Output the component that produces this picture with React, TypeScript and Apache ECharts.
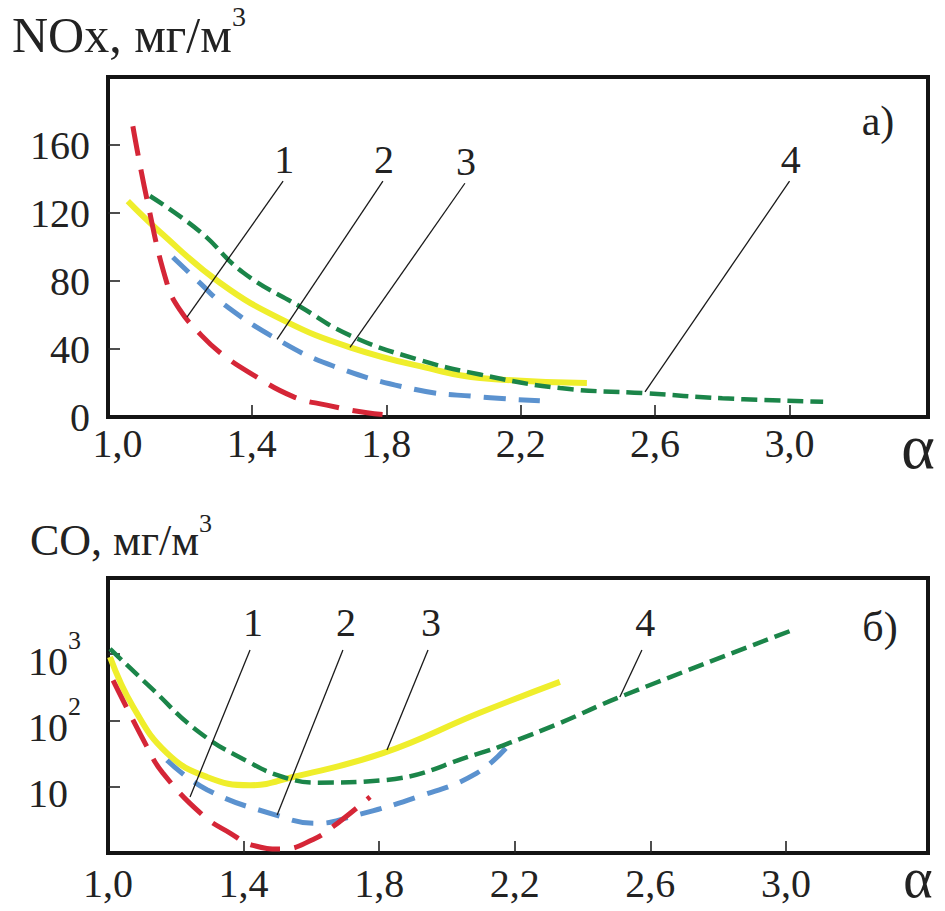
import React, { useEffect, useRef } from 'react';
import * as echarts from 'echarts';

// ---------- data ----------
const xTickValues = [1.0, 1.4, 1.8, 2.2, 2.6, 3.0];
const xMinorTicks = [1.4, 1.8, 2.2, 2.6, 3.0];
const noxTickValues = [0, 40, 80, 120, 160];
const coTickValues = [10, 100, 1000];

// NOx (top, panel a)
const nox1 = [[1.046, 171], [1.088, 128], [1.147, 79], [1.186, 63], [1.25, 48], [1.305, 38], [1.394, 26], [1.523, 12], [1.623, 7], [1.743, 2.5], [1.826, 1]];
const nox2 = [[1.165, 94], [1.25, 78], [1.305, 68], [1.464, 47], [1.642, 30], [1.891, 16], [2.07, 12], [2.257, 9.5]];
const nox3 = [[1.031, 127], [1.126, 109], [1.305, 79], [1.493, 57], [1.692, 41], [1.94, 28], [2.079, 23], [2.397, 20]];
const nox4 = [[1.097, 130], [1.246, 109], [1.374, 85], [1.543, 65], [1.692, 48], [1.891, 34], [2.079, 25], [2.317, 17], [2.57, 14], [2.8, 11], [3.1, 9]];

// CO (bottom, panel б), log scale
const co1 = [[1.015, 400], [1.115, 40], [1.162, 16], [1.28, 3.7], [1.36, 2], [1.428, 1.3], [1.516, 1.15], [1.605, 1.6], [1.664, 2.5], [1.773, 7]];
const co2 = [[1.174, 25], [1.292, 9], [1.498, 3.7], [1.617, 2.8], [1.714, 3.5], [1.912, 7], [2.088, 16], [2.186, 45]];
const co3 = [[1.006, 900], [1.074, 160], [1.174, 32], [1.292, 14], [1.419, 10.5], [1.546, 14], [1.811, 32], [2.097, 130], [2.333, 380]];
const co4 = [[1.006, 1200], [1.124, 320], [1.271, 65], [1.419, 23], [1.516, 14], [1.617, 11.5], [1.811, 12.5], [2.097, 32], [2.186, 46], [2.333, 91], [2.51, 225], [3.02, 2300]];

// leader lines: [point on curve, upper end], label
const noxLeaders = [
  { label: '1', from: [1.207, 58.7], to: [1.493, 138.7] },
  { label: '2', from: [1.475, 45.6], to: [1.79, 138.7] },
  { label: '3', from: [1.692, 40.9], to: [2.034, 137.5] },
  { label: '4', from: [2.57, 14.8], to: [3.0, 138.7] },
];
const coLeaders = [
  { label: '1', from: [1.242, 7], to: [1.419, 1150] },
  { label: '2', from: [1.499, 3.74], to: [1.693, 1150] },
  { label: '3', from: [1.823, 35.8], to: [1.944, 1150] },
  { label: '4', from: [2.51, 225], to: [2.575, 1150] },
];

// ---------- styles ----------
const FONT = 'Liberation Serif';
const TXT = '#222';
const RED = '#d52637';
const BLUE = '#5b92cf';
const YELLOW = '#efee2c';
const GREEN = '#1b8549';

const curveStyles = {
  c1: { color: RED, width: 5, type: [30, 14] as any },
  c2: { color: BLUE, width: 5, type: [22, 13] as any },
  c3: { color: YELLOW, width: 6, type: 'solid' as any },
  c4: { color: GREEN, width: 4.5, type: [16, 7] as any },
};

const fmtX = (v: number) => v.toFixed(1).replace('.', ',');

function curve(name: string, data: number[][], style: any, gi: number, leader: any, dist: number) {
  return {
    type: 'line',
    name,
    xAxisIndex: gi,
    yAxisIndex: gi,
    data,
    smooth: 0.45,
    showSymbol: false,
    symbol: 'none',
    lineStyle: { color: style.color, width: style.width, type: style.type, cap: 'butt' },
    itemStyle: { color: style.color },
    markLine: {
      silent: true,
      symbol: ['none', 'none'],
      lineStyle: { color: '#1a1a1a', width: 1.3, type: 'solid' },
      label: {
        show: true,
        position: 'end',
        formatter: leader.label,
        color: TXT,
        fontFamily: FONT,
        fontSize: 40,
        distance: dist,
      },
      data: [[{ coord: leader.from }, { coord: leader.to }]],
    },
  };
}

export default function App() {
  const ref = useRef<HTMLDivElement>(null);
  useEffect(() => {
    if (!ref.current) return;
    const chart = echarts.init(ref.current, undefined, { renderer: 'svg' });

    const xAxisBase = (gi: number, min: number, max: number, margin: number) => ({
      type: 'value',
      gridIndex: gi,
      min,
      max,
      axisLine: { show: false },
      splitLine: { show: false },
      axisTick: { show: true, inside: true, length: 12, customValues: xMinorTicks, lineStyle: { color: TXT, width: 1.6 } },
      axisLabel: { show: true, customValues: xTickValues, formatter: fmtX, fontSize: 40, fontFamily: FONT, color: TXT, margin },
    });

    const option: any = {
      animation: false,
      backgroundColor: '#ffffff',
      textStyle: { fontFamily: FONT },
      grid: [
        { left: 108, top: 77, width: 820, height: 340, show: true, borderColor: '#141414', borderWidth: 4, backgroundColor: 'transparent' },
        { left: 108, top: 578, width: 820, height: 275, show: true, borderColor: '#141414', borderWidth: 4, backgroundColor: 'transparent' },
      ],
      xAxis: [xAxisBase(0, 0.972, 3.412, 6), xAxisBase(1, 1.0, 3.419, 10)],
      yAxis: [
        {
          type: 'value',
          gridIndex: 0,
          min: 0,
          max: 200,
          interval: 40,
          axisLine: { show: false },
          splitLine: { show: false },
          axisTick: { show: true, inside: true, length: 12, customValues: [40, 80, 120, 160], lineStyle: { color: TXT, width: 1.6 } },
          axisLabel: { show: true, customValues: noxTickValues, fontSize: 40, fontFamily: FONT, color: TXT, margin: 18 },
        },
        {
          type: 'log',
          gridIndex: 1,
          logBase: 10,
          min: 1,
          max: 14000,
          axisLine: { show: false },
          splitLine: { show: false },
          axisTick: { show: true, inside: true, length: 12, customValues: coTickValues, lineStyle: { color: TXT, width: 1.6 } },
          axisLabel: {
            show: true,
            customValues: coTickValues,
            align: 'left',
            margin: 80,
            formatter: (v: number) => {
              const p = Math.round(Math.log10(v));
              return p === 1 ? '{b|10}' : '{b|10}{s|' + p + '}';
            },
            rich: {
              b: { fontSize: 40, fontFamily: FONT, color: TXT, lineHeight: 54, verticalAlign: 'bottom' },
              s: { fontSize: 26, fontFamily: FONT, color: TXT, lineHeight: 26, verticalAlign: 'top' },
            },
          },
        },
      ],
      series: [
        curve('3', nox3, curveStyles.c3, 0, noxLeaders[2], 2),
        curve('2', nox2, curveStyles.c2, 0, noxLeaders[1], 2),
        curve('4', nox4, curveStyles.c4, 0, noxLeaders[3], 2),
        curve('1', nox1, curveStyles.c1, 0, noxLeaders[0], 2),
        curve('3', co3, curveStyles.c3, 1, coLeaders[2], 8),
        curve('2', co2, curveStyles.c2, 1, coLeaders[1], 8),
        curve('4', co4, curveStyles.c4, 1, coLeaders[3], 8),
        curve('1', co1, curveStyles.c1, 1, coLeaders[0], 8),
      ],
      graphic: [
        {
          type: 'text',
          x: 12,
          y: 2,
          style: {
            text: '{b|NOx, мг/м}{s|3}',
            rich: {
              b: { fontSize: 50, fontFamily: FONT, fill: TXT, lineHeight: 58, verticalAlign: 'bottom' },
              s: { fontSize: 28, fontFamily: FONT, fill: TXT, lineHeight: 28, verticalAlign: 'top' },
            },
          },
        },
        {
          type: 'text',
          x: 30,
          y: 510,
          style: {
            text: '{b|CO, мг/м}{s|3}',
            rich: {
              b: { fontSize: 44, fontFamily: FONT, fill: TXT, lineHeight: 52, verticalAlign: 'bottom' },
              s: { fontSize: 26, fontFamily: FONT, fill: TXT, lineHeight: 26, verticalAlign: 'top' },
            },
          },
        },
        { type: 'text', x: 878, y: 121, style: { text: 'a)', fontSize: 42, fontFamily: FONT, fill: TXT, align: 'center', verticalAlign: 'middle' } },
        { type: 'text', x: 880, y: 627, style: { text: 'б)', fontSize: 42, fontFamily: FONT, fill: TXT, align: 'center', verticalAlign: 'middle' } },
        { type: 'text', x: 918, y: 446, style: { text: 'α', fontSize: 64, fontFamily: FONT, fill: TXT, align: 'center', verticalAlign: 'middle' } },
        { type: 'text', x: 918, y: 878, style: { text: 'α', fontSize: 56, fontFamily: FONT, fill: TXT, align: 'center', verticalAlign: 'middle' } },
      ],
    };
    chart.setOption(option);
    return () => chart.dispose();
  }, []);

  return <div ref={ref} style={{ position: 'fixed', left: 0, top: 0, width: 945, height: 911, background: '#fff' }} />;
}
